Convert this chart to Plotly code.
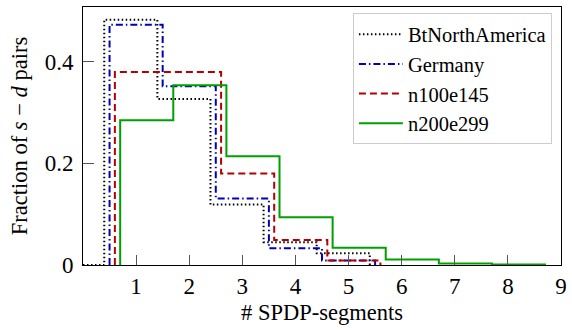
import plotly.graph_objects as go

# bins: number of SPDP-segments
segments = [1, 2, 3, 4, 5, 6, 7, 8]
names = ["BtNorthAmerica", "Germany", "n100e145", "n200e299"]
offsets = [-0.1, 0.0, 0.1, 0.2]  # bar shift of each series (bin = center-0.5 .. center+0.5)

bt_north_america = [0.483, 0.327, 0.119, 0.045, 0.023, 0.0, 0.0, 0.0]
germany = [0.473, 0.352, 0.131, 0.033, 0.009, 0.0, 0.0, 0.0]
n100e145 = [0.380, 0.380, 0.180, 0.049, 0.009, 0.0, 0.0, 0.0]
n200e299 = [0.285, 0.354, 0.214, 0.094, 0.034, 0.011, 0.003, 0.001]

series = [bt_north_america, germany, n100e145, n200e299]
colors = ["#000000", "#0000b4", "#b40000", "#00a000"]
dashes = ["1.5px,2.5px", "7px,3px,1.5px,3px", "7px,4px", "solid"]

fig = go.Figure()
for i, (name, vals) in enumerate(zip(names, series)):
    n = len(vals)
    while n > 0 and vals[n - 1] == 0:
        n -= 1
    edges = [s - 0.5 + offsets[i] for s in segments[:n]] + [segments[n - 1] + 0.5 + offsets[i]]
    xs = [edges[0]] + edges[:n] + [edges[n]]
    ys = [0] + list(vals[:n]) + [0]
    if i == 0:
        xs = [0] + edges[:n] + [edges[n]]
    fig.add_trace(go.Scatter(
        x=xs, y=ys, mode="lines", name=name,
        line=dict(shape="hv", color=colors[i], width=2, dash=dashes[i]),
    ))

font = "Liberation Serif"
tick_font = dict(family=font, size=23, color="black")
title_font = dict(family=font, size=22.5, color="black")
fig.update_layout(
    width=572, height=330,
    margin=dict(l=83, r=5, t=7, b=65),
    paper_bgcolor="white", plot_bgcolor="white",
    font=dict(family=font, size=22, color="black"),
    showlegend=True,
    legend=dict(
        x=0.981, y=0.975, xanchor="right", yanchor="top",
        bgcolor="white", bordercolor="#cccccc", borderwidth=1,
        font=dict(family=font, size=20.5, color="black"),
        itemwidth=44, tracegroupgap=0,
    ),
    xaxis=dict(
        range=[0, 9], tickmode="array", tickvals=list(range(1, 10)),
        ticks="inside", ticklen=10, tickcolor="#555555", tickwidth=1,
        showline=True, linecolor="black", linewidth=1, mirror=True,
        showgrid=False, zeroline=False, ticklabelstandoff=0,
        ticklabeloverflow="allow",
        title=dict(text="# SPDP-segments", standoff=6, font=title_font),
        tickfont=tick_font,
    ),
    yaxis=dict(
        range=[0, 0.508], tickmode="array", tickvals=[0, 0.2, 0.4],
        ticktext=["0", "0.2", "0.4"],
        ticks="inside", ticklen=11, tickcolor="#555555", tickwidth=1,
        showline=True, linecolor="black", linewidth=1, mirror=True,
        showgrid=False, zeroline=False, ticklabelstandoff=4,
        title=dict(text="Fraction of <i>s</i> − <i>d</i> pairs", standoff=10, font=title_font),
        tickfont=tick_font,
    ),
)

fig.write_html("out.html")
